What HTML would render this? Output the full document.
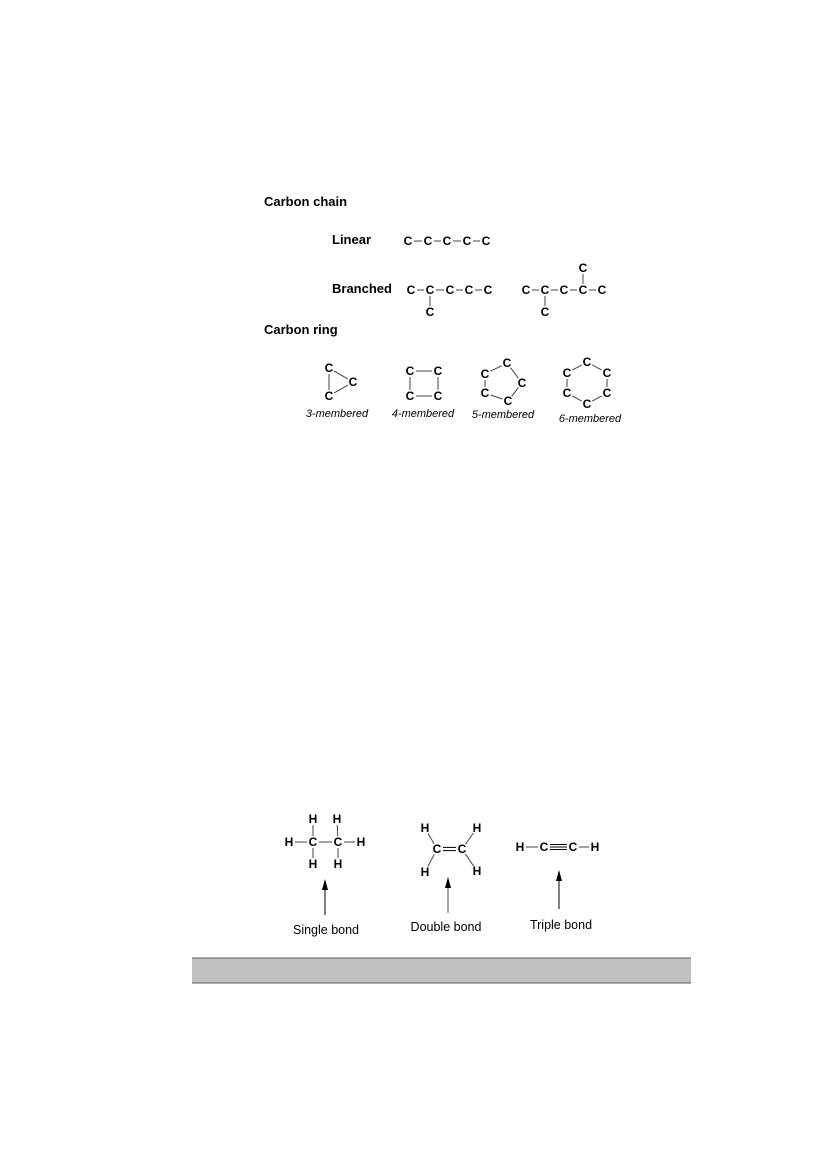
<!DOCTYPE html>
<html><head><meta charset="utf-8"><style>
html,body{margin:0;padding:0;background:#fff;}
svg{display:block;}
.at{font-family:"Liberation Sans",sans-serif;font-weight:bold;font-size:12px;fill:#000;text-anchor:middle;dominant-baseline:central;}
.lb{font-family:"Liberation Sans",sans-serif;font-weight:bold;font-size:13px;fill:#000;}
.it{font-family:"Liberation Sans",sans-serif;font-style:italic;font-size:11px;fill:#000;text-anchor:middle;}
.cap{font-family:"Liberation Sans",sans-serif;font-size:12.5px;fill:#000;text-anchor:middle;}
</style></head><body>
<svg id="s" width="827" height="1169" viewBox="0 0 827 1169" xmlns="http://www.w3.org/2000/svg">
<text class="lb" x="264" y="206">Carbon chain</text>
<text class="lb" x="332" y="244">Linear</text>
<text class="lb" x="332" y="293">Branched</text>
<text class="lb" x="264" y="334">Carbon ring</text>
<text class="it" x="337" y="417">3-membered</text>
<text class="it" x="423" y="417">4-membered</text>
<text class="it" x="503" y="418">5-membered</text>
<text class="it" x="590" y="422">6-membered</text>
<text class="cap" x="326" y="934">Single bond</text>
<text class="cap" x="446" y="931">Double bond</text>
<text class="cap" x="561" y="929">Triple bond</text>
<g>
<line x1="325" y1="915" x2="325" y2="888" stroke="#000" stroke-width="1"/>
<polygon points="325,879 322,890 328,890" fill="#000"/>
<line x1="448" y1="913" x2="448" y2="886" stroke="#555" stroke-width="1"/>
<polygon points="448,877 445,888 451,888" fill="#000"/>
<line x1="559" y1="909" x2="559" y2="880" stroke="#000" stroke-width="1"/>
<polygon points="559,870 556,881 562,881" fill="#000"/>
</g>
<rect x="192" y="958" width="499" height="25" fill="#c0c0c0"/>
<line x1="192" y1="958" x2="691" y2="958" stroke="#777" stroke-width="1.2"/>
<line x1="192" y1="983" x2="691" y2="983" stroke="#555" stroke-width="1"/>
</svg>
<script>
var svg=document.getElementById('s');
var NS='http://www.w3.org/2000/svg';
function atom(t,x,y,name){var e=document.createElementNS(NS,'text');
e.setAttribute('class','at');e.setAttribute('x',x);e.setAttribute('y',y);e.textContent=t;


svg.appendChild(e);}
function bond(a,b,off,col){var dx=b[0]-a[0],dy=b[1]-a[1],L=Math.hypot(dx,dy),ux=dx/L,uy=dy/L,g=6;
var nx=-uy*(off||0),ny=ux*(off||0);
var l=document.createElementNS(NS,'line');
l.setAttribute('x1',a[0]+ux*g+nx);l.setAttribute('y1',a[1]+uy*g+ny);
l.setAttribute('x2',b[0]-ux*g+nx);l.setAttribute('y2',b[1]-uy*g+ny);
l.setAttribute('stroke',col||'#333');l.setAttribute('stroke-width','1');


svg.appendChild(l);}
function mol(atoms,bonds,name){atoms.forEach(function(a){atom(a[0],a[1],a[2],name+'-atom');});
bonds.forEach(function(b){var A=[atoms[b[0]][1],atoms[b[0]][2]],B=[atoms[b[1]][1],atoms[b[1]][2]];
var m=b[2]||1;if(m==1)bond(A,B,0,'#444');else if(m==2){bond(A,B,-1.6,'#000');bond(A,B,1.6,'#000');}else{bond(A,B,-2.5,'#000');bond(A,B,0,'#000');bond(A,B,2.5,'#000');}});}
mol([['C',408,241],['C',428,241],['C',447,241],['C',467,241],['C',486,241]],[[0,1],[1,2],[2,3],[3,4]],'linear-chain');
mol([['C',411,290],['C',430,290],['C',450,290],['C',469,290],['C',488,290],['C',430,312]],[[0,1],[1,2],[2,3],[3,4],[1,5]],'branched-chain-1');
mol([['C',526,290],['C',545,290],['C',564,290],['C',583,290],['C',602,290],['C',545,312],['C',583,268]],[[0,1],[1,2],[2,3],[3,4],[1,5],[3,6]],'branched-chain-2');
mol([['C',329,368],['C',353,382],['C',329,396]],[[0,1],[1,2],[2,0]],'ring-3');
mol([['C',410,371],['C',438,371],['C',438,396],['C',410,396]],[[0,1],[1,2],[2,3],[3,0]],'ring-4');
mol([['C',485,374],['C',507,363],['C',522,383],['C',508,401],['C',485,393]],[[0,1],[1,2],[2,3],[3,4],[4,0]],'ring-5');
mol([['C',587,362],['C',607,373],['C',607,393],['C',587,404],['C',567,393],['C',567,373]],[[0,1],[1,2],[2,3],[3,4],[4,5],[5,0]],'ring-6');
mol([['H',313,819],['H',337,819],['H',289,842],['C',313,842],['C',338,842],['H',361,842],['H',313,864],['H',338,864]],[[2,3],[3,4],[4,5],[0,3],[3,6],[1,4],[4,7]],'ethane');
mol([['H',425,828],['C',437,849],['C',462,849],['H',477,828],['H',425,872],['H',477,871]],[[0,1],[1,2,2],[2,3],[1,4],[2,5]],'ethene');
mol([['H',520,847],['C',544,847],['C',573,847],['H',595,847]],[[0,1],[1,2,3],[2,3]],'ethyne');
</script>
</body></html>
